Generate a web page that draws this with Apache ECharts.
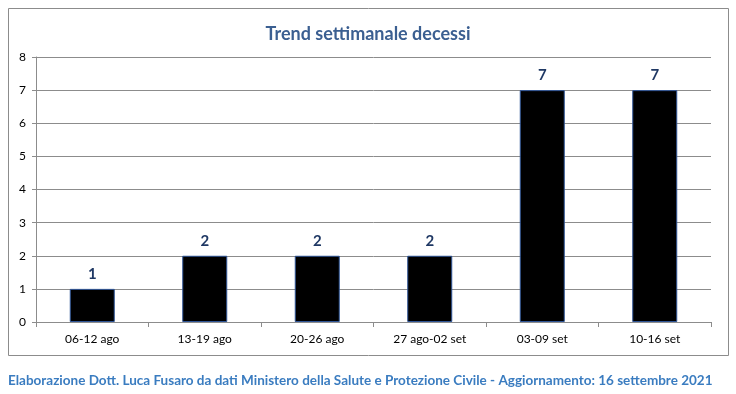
<!DOCTYPE html>
<html><head><meta charset="utf-8">
<script src="https://cdn.jsdelivr.net/npm/echarts@6/dist/echarts.min.js"></script>
<style>html,body{margin:0;padding:0;background:#fff}#c{width:736px;height:394px}</style>
</head><body><div id="c"></div>
<script>
const categories = ['06-12 ago','13-19 ago','20-26 ago','27 ago-02 set','03-09 set','10-16 set'];
const deaths = [1,2,2,2,7,7];
const titleText = 'Trend settimanale decessi';
const footerText = 'Elaborazione Dott. Luca Fusaro da dati Ministero della Salute e Protezione Civile - Aggiornamento: 16 settembre 2021';
const FONT = 'Lato,"Open Sans",sans-serif';
// fit footer font size to target width
const cv = document.createElement('canvas').getContext('2d');
let fs = 14;
while (fs > 8) { cv.font = 'bold ' + fs + 'px ' + FONT; if (cv.measureText(footerText).width <= 714) break; fs -= 0.25; }
const chart = echarts.init(document.getElementById('c'));
chart.setOption({
  animation:false,
  backgroundColor:'#fff',
  title:{text:titleText,left:'center',top:20,textStyle:{fontFamily:FONT,fontSize:18,fontWeight:'bold',color:'#3b5f91'}},
  graphic:[
    {type:'rect',shape:{x:8.5,y:8.5,width:720,height:347},style:{fill:'none',stroke:'#8c8c8c',lineWidth:1},silent:true},
    {type:'text',x:8,y:381,style:{text:footerText,font:'bold '+fs+'px '+FONT,fill:'#3a7cc0',textVerticalAlign:'middle',verticalAlign:'middle'}}
  ],
  grid:{left:36,right:25,top:57,bottom:72,containLabel:false},
  xAxis:{type:'category',data:categories,
    axisLine:{lineStyle:{color:'#8c8c8c'}},
    axisTick:{show:true,alignWithLabel:false,length:5,lineStyle:{color:'#8c8c8c'}},
    axisLabel:{fontFamily:FONT,fontSize:12,color:'#000',margin:11}},
  yAxis:{type:'value',min:0,max:8,interval:1,
    axisLine:{show:true,lineStyle:{color:'#8c8c8c'}},
    axisTick:{show:true,length:4,lineStyle:{color:'#8c8c8c'}},
    axisLabel:{fontFamily:FONT,fontSize:12,color:'#000',margin:10},
    splitLine:{lineStyle:{color:'#8c8c8c'}}},
  series:[{type:'bar',data:deaths,barWidth:'40%',
    itemStyle:{color:'#000',borderColor:'#2f5597',borderWidth:1},
    label:{show:true,position:'top',distance:7,fontFamily:FONT,fontSize:15,fontWeight:'bold',color:'#1f3864'}}]
});
</script></body></html>
